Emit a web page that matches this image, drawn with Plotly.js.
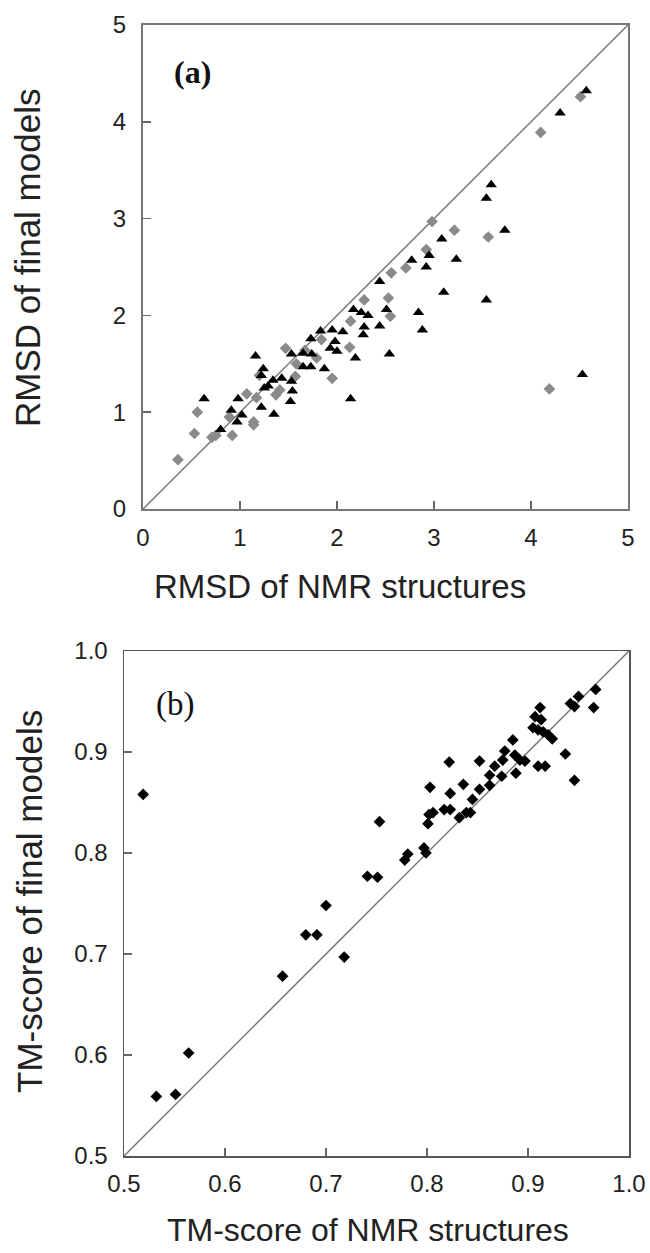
<!DOCTYPE html>
<html>
<head>
<meta charset="utf-8">
<script src="https://cdn.plot.ly/plotly-3.0.1.min.js"></script>
<style>html,body{margin:0;padding:0;background:#fff;}#chart{width:650px;height:1253px;}</style>
</head>
<body>
<div id="chart"></div>
<script>
// Panel (a): RMSD, gray diamonds series
const rmsdGrayNMR   = [0.36,0.53,0.56,0.71,0.75,0.92,0.89,1.07,1.14,1.14,1.17,1.20,1.37,1.41,1.47,1.57,1.58,1.67,1.79,1.84,1.95,2.13,2.14,2.28,2.53,2.55,2.56,2.71,2.92,2.98,3.21,3.56,4.10,4.51,4.19];
const rmsdGrayModel = [0.51,0.78,1.00,0.74,0.76,0.76,0.95,1.19,0.90,0.87,1.15,1.38,1.18,1.23,1.66,1.37,1.50,1.64,1.56,1.75,1.35,1.67,1.94,2.16,2.18,1.99,2.44,2.49,2.68,2.97,2.88,2.81,3.89,4.26,1.24];
// Panel (a): RMSD, black triangles series
const rmsdTriNMR   = [0.63,0.80,0.91,0.98,0.97,1.02,1.16,1.22,1.24,1.22,1.25,1.29,1.35,1.34,1.43,1.53,1.54,1.52,1.53,1.65,1.73,1.65,1.74,1.73,1.83,1.87,1.95,1.93,1.98,2.00,2.06,2.14,2.19,2.17,2.25,2.32,2.28,2.27,2.44,2.44,2.51,2.54,2.77,2.95,2.92,3.23,3.10,3.54,2.84,2.88,3.08,3.73,3.54,3.59,4.30,4.57,4.53];
const rmsdTriModel = [1.14,0.82,1.02,1.14,0.90,0.97,1.58,1.05,1.45,1.38,1.25,1.27,0.98,1.33,1.35,1.32,1.22,1.11,1.60,1.47,1.47,1.61,1.60,1.76,1.84,1.45,1.85,1.66,1.73,1.63,1.83,1.14,1.56,2.06,2.03,2.00,1.88,1.80,2.35,1.89,2.06,1.60,2.57,2.62,2.50,2.58,2.24,2.16,2.03,1.85,2.79,2.88,3.21,3.35,4.09,4.32,1.39];
// Panel (b): TM-score
const tmNMR   = [0.519,0.532,0.551,0.564,0.657,0.680,0.691,0.700,0.718,0.741,0.751,0.753,0.778,0.781,0.797,0.799,0.801,0.802,0.806,0.803,0.817,0.823,0.823,0.822,0.832,0.836,0.839,0.843,0.845,0.852,0.852,0.862,0.862,0.867,0.874,0.875,0.877,0.885,0.887,0.888,0.892,0.897,0.905,0.907,0.912,0.913,0.910,0.915,0.920,0.924,0.910,0.917,0.937,0.946,0.942,0.946,0.950,0.967,0.965];
const tmModel = [0.858,0.559,0.561,0.602,0.678,0.719,0.719,0.748,0.697,0.777,0.776,0.831,0.793,0.799,0.805,0.800,0.829,0.838,0.840,0.865,0.843,0.843,0.859,0.890,0.835,0.868,0.840,0.840,0.853,0.863,0.891,0.867,0.877,0.886,0.876,0.892,0.901,0.912,0.897,0.879,0.892,0.891,0.924,0.935,0.944,0.932,0.922,0.920,0.917,0.913,0.886,0.886,0.898,0.872,0.948,0.945,0.955,0.962,0.944];
// Axis ranges, ticks and labels
const rangeA = [0,5];
const ticksA = [0,1,2,3,4,5];
const rangeB = [0.5,1.0];
const ticksB = [0.5,0.6,0.7,0.8,0.9,1.0];
const tickTextB = ["0.5","0.6","0.7","0.8","0.9","1.0"];
const titleAx = "RMSD of NMR structures";
const titleAy = "RMSD of final models";
const titleBx = "TM-score of NMR structures";
const titleBy = "TM-score of final models";

const W = 650, H = 1253;
const px = v => v / W;
const py = v => 1 - v / H;

const traces = [
  {x: rmsdGrayNMR, y: rmsdGrayModel, xaxis:'x', yaxis:'y', mode:'markers', type:'scatter',
   marker:{symbol:'diamond', size:9, color:'#8a8a8a'}},
  {x: rmsdTriNMR, y: rmsdTriModel, xaxis:'x', yaxis:'y', mode:'markers', type:'scatter',
   marker:{symbol:'triangle-up', size:10, color:'#000'}},
  {x: tmNMR, y: tmModel, xaxis:'x2', yaxis:'y2', mode:'markers', type:'scatter',
   marker:{symbol:'diamond', size:9, color:'#000'}}
];

const FONT = 'Liberation Sans, Arial, sans-serif';
const tickFont = {family:FONT, size:24, color:'#222'};
const axBase = {showgrid:false, zeroline:false, showline:true, mirror:true, linecolor:'#777', linewidth:2,
  ticks:'inside', ticklen:8, tickcolor:'#666', tickwidth:1.5, tickfont:tickFont, fixedrange:true};

const layout = {
  width: W, height: H, showlegend:false,
  margin:{l:0,r:0,t:0,b:0},
  paper_bgcolor:'#fff', plot_bgcolor:'#fff',
  xaxis: Object.assign({}, axBase, {domain:[px(143), px(628)], range:rangeA, tickvals:ticksA, anchor:'y', ticklabelstandoff:6}),
  yaxis: Object.assign({}, axBase, {domain:[py(509), py(25)], range:rangeA, tickvals:ticksA, anchor:'x', ticklabelstandoff:10}),
  xaxis2: Object.assign({}, axBase, {domain:[px(124), px(629)], range:rangeB, tickvals:ticksB, ticktext:tickTextB, anchor:'y2',
    linecolor:'#555', linewidth:1.5, ticklabelstandoff:6}),
  yaxis2: Object.assign({}, axBase, {domain:[py(1156), py(651)], range:rangeB, tickvals:ticksB, ticktext:tickTextB, anchor:'x2',
    linecolor:'#555', linewidth:1.5, ticklabelstandoff:10}),
  shapes: [
    {type:'line', xref:'x', yref:'y', x0:rangeA[0], y0:rangeA[0], x1:rangeA[1], y1:rangeA[1], line:{color:'#777', width:1.5}, layer:'below'},
    {type:'line', xref:'x2', yref:'y2', x0:rangeB[0], y0:rangeB[0], x1:rangeB[1], y1:rangeB[1], line:{color:'#777', width:1.5}, layer:'below'}
  ],
  annotations: [
    {text:'<b>(a)</b>', xref:'x', yref:'y', x:0.3, y:4.51, xanchor:'left', yanchor:'middle', showarrow:false,
     font:{family:'Liberation Serif, Times New Roman, serif', size:32, color:'#111'}},
    {text:'(b)', xref:'x2', yref:'y2', x:0.53, y:0.947, xanchor:'left', yanchor:'middle', showarrow:false,
     font:{family:'Liberation Serif, Times New Roman, serif', size:33, color:'#111'}},
    {text:titleAx, xref:'paper', yref:'paper', x:px(340), y:py(587), xanchor:'center', yanchor:'middle', showarrow:false,
     font:{family:FONT, size:33, color:'#222'}},
    {text:titleBx, xref:'paper', yref:'paper', x:px(368), y:py(1230), xanchor:'center', yanchor:'middle', showarrow:false,
     font:{family:FONT, size:32, color:'#222'}},
    {text:titleAy, xref:'paper', yref:'paper', x:px(27), y:py(258), xanchor:'center', yanchor:'middle', textangle:-90, showarrow:false,
     font:{family:FONT, size:35, color:'#222'}},
    {text:titleBy, xref:'paper', yref:'paper', x:px(30), y:py(902), xanchor:'center', yanchor:'middle', textangle:-90, showarrow:false,
     font:{family:FONT, size:35, color:'#222'}}
  ]
};

Plotly.newPlot('chart', traces, layout, {staticPlot:true, displayModeBar:false});
</script>
</body>
</html>
